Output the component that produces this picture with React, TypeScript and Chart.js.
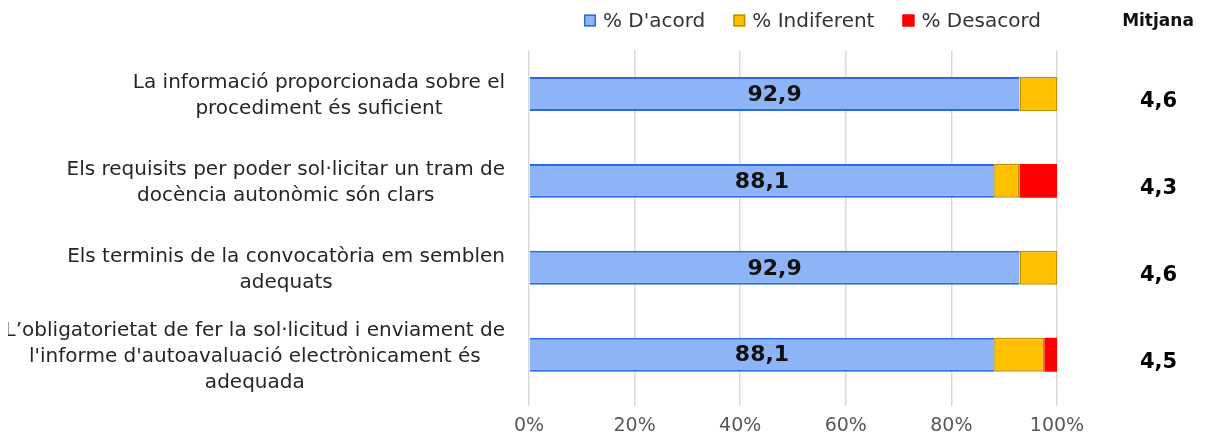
import { useEffect, useRef } from 'react';
import { Chart, registerables } from 'chart.js';

Chart.register(...registerables);

const categories: string[][] = [
  ['La informació proporcionada sobre el', 'procediment és suficient'],
  ['Els requisits per poder sol·licitar un tram de', 'docència autonòmic són clars'],
  ['Els terminis de la convocatòria em semblen', 'adequats'],
  ['L’obligatorietat de fer la sol·licitud i enviament de', "l'informe d'autoavaluació electrònicament és", 'adequada'],
];
const seriesNames = ['% D\'acord', '% Indiferent', '% Desacord'];
const acord = [92.9, 88.1, 92.9, 88.1];
const indiferent = [7.1, 4.8, 7.1, 9.5];
const desacord = [0, 7.1, 0, 2.4];
const mitjana = ['4,6', '4,3', '4,6', '4,5'];
const mitjanaTitle = 'Mitjana';
const xTickValues = [0, 20, 40, 60, 80, 100];

const fills = ['#8db4f6', '#ffc000', '#ff0000'];
const borders = ['#2a6be0', '#bf9100', '#ff0000'];
const FONT = '"DejaVu Sans"';

const fmt = (v: number) => v.toFixed(1).replace('.', ',');

const overlay = {
  id: 'overlay',
  afterDatasetsDraw(chart: any) {
    const ctx: CanvasRenderingContext2D = chart.ctx;
    const yScale = chart.scales.y;
    const area = chart.chartArea;
    ctx.save();
    // value labels in the first series
    ctx.font = `bold 22px ${FONT}`;
    ctx.fillStyle = '#111111';
    ctx.textAlign = 'center';
    ctx.textBaseline = 'middle';
    const meta = chart.getDatasetMeta(0);
    meta.data.forEach((bar: any, i: number) => {
      const p = bar.getProps(['x', 'base', 'y'], true);
      ctx.fillText(fmt(acord[i]), (p.x + p.base) / 2, p.y + 1);
    });
    // category labels: right-aligned blocks, centered lines
    ctx.font = `20px ${FONT}`;
    ctx.fillStyle = '#262626';
    categories.forEach((lines, i) => {
      const cy = yScale.getPixelForValue(i);
      const w = Math.max(...lines.map((l) => ctx.measureText(l).width));
      const cx = area.left - 24 - w / 2;
      lines.forEach((l, j) => {
        ctx.fillText(l, cx, cy + 2 + (j - (lines.length - 1) / 2) * 26);
      });
    });
    // Mitjana header
    ctx.font = `bold 17px ${FONT}`;
    ctx.fillStyle = '#111111';
    ctx.fillText(mitjanaTitle, area.right + 101, 14);
    // legend
    ctx.font = `20px ${FONT}`;
    const box = 12;
    const gapBoxText = 7;
    const gapItems = 28;
    const widths = seriesNames.map((s) => box + gapBoxText + ctx.measureText(s).width);
    const total = widths.reduce((a, b) => a + b, 0) + gapItems * (seriesNames.length - 1);
    let x = (area.left + area.right) / 2 + 19.5 - total / 2;
    const ly = 12.5;
    seriesNames.forEach((s, i) => {
      ctx.fillStyle = fills[i];
      ctx.fillRect(x, ly - box / 2, box, box);
      ctx.strokeStyle = borders[i];
      ctx.lineWidth = 1.5;
      ctx.strokeRect(x + 0.75, ly - box / 2 + 0.75, box - 1.5, box - 1.5);
      ctx.fillStyle = '#333333';
      ctx.textAlign = 'left';
      ctx.fillText(s, x + box + gapBoxText, ly + 1);
      x += widths[i] + gapItems;
    });
    ctx.restore();
  },
};

export default function App() {
  const ref = useRef<HTMLCanvasElement | null>(null);
  useEffect(() => {
    if (!ref.current) return;
    Chart.defaults.font.family = FONT;
    const chart = new Chart(ref.current, {
      type: 'bar',
      data: {
        labels: categories,
        datasets: [
          {
            label: seriesNames[0],
            data: acord,
            backgroundColor: fills[0],
            borderColor: borders[0],
            borderWidth: { top: 2, bottom: 2, left: 0, right: 0 },
            borderSkipped: false,
          },
          {
            label: seriesNames[1],
            data: indiferent,
            backgroundColor: fills[1],
            borderColor: borders[1],
            borderWidth: 1.5,
            borderSkipped: false,
          },
          {
            label: seriesNames[2],
            data: desacord,
            backgroundColor: fills[2],
            borderColor: borders[2],
            borderWidth: 0,
          },
        ],
      },
      options: {
        indexAxis: 'y',
        responsive: false,
        animation: false,
        barPercentage: 0.39,
        categoryPercentage: 1,
        layout: { padding: { left: 521, right: 0, top: 42.5, bottom: 0 } },
        plugins: { legend: { display: false }, tooltip: { enabled: false } },
        scales: {
          x: {
            stacked: true,
            min: 0,
            max: 100,
            afterBuildTicks: (s: any) => {
              s.ticks = xTickValues.map((v) => ({ value: v }));
            },
            grid: { color: '#d9d9d9', lineWidth: 1.5, tickLength: 8 },
            border: { display: false },
            ticks: {
              color: '#595959',
              padding: 8,
              font: { size: 19, family: FONT },
              callback: (v: any) => `${v}%`,
            },
          },
          y: {
            stacked: true,
            display: false,
          },
          y2: {
            type: 'category',
            labels: mitjana,
            position: 'right',
            offset: true,
            grid: { display: false },
            border: { display: false },
            afterFit: (s: any) => {
              s.width = 145;
              s.paddingTop = 0;
              s.paddingBottom = 0;
            },
            ticks: {
              crossAlign: 'center',
              padding: 75,
              labelOffset: 8,
              color: '#000000',
              font: { size: 21, weight: 'bold', family: FONT },
            },
          },
        },
      },
      plugins: [overlay],
    } as any);
    return () => chart.destroy();
  }, []);
  return <canvas ref={ref} width={1194} height={437} style={{ display: 'block' }} />;
}
